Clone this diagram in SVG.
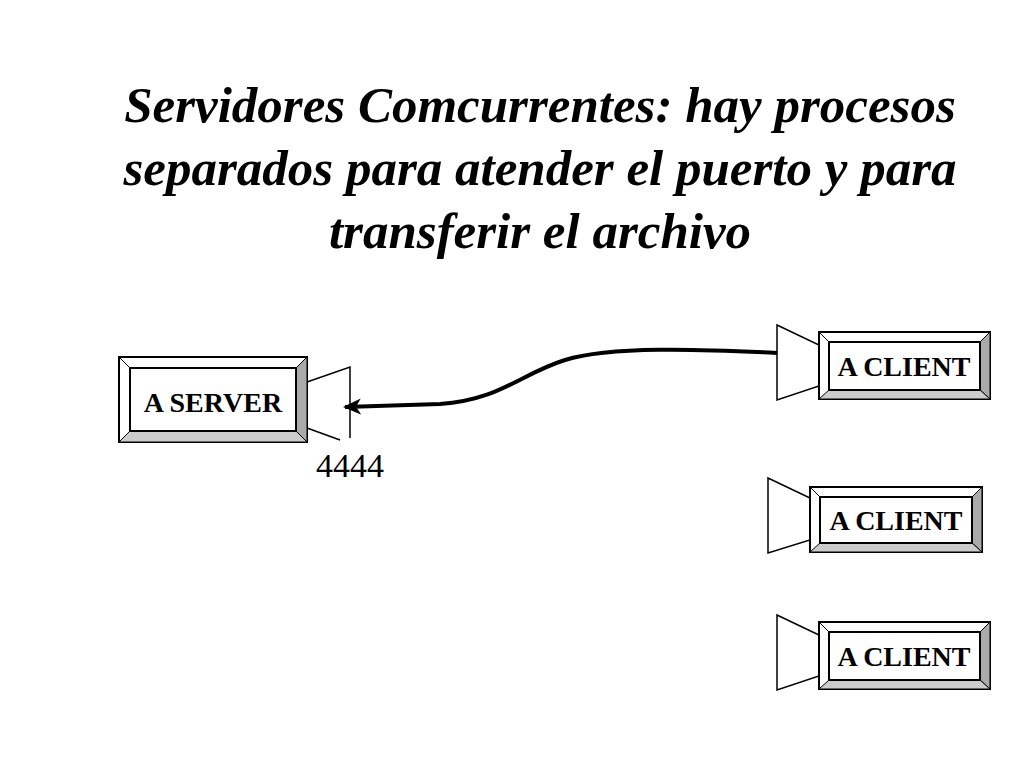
<svg xmlns="http://www.w3.org/2000/svg" width="1024" height="768" viewBox="0 0 1024 768">
<style>
.t{font-family:"Liberation Serif",serif;font-weight:bold;font-style:italic;font-size:51px;text-anchor:middle}
.l{font-family:"Liberation Serif",serif;font-weight:bold;font-size:28px;text-anchor:middle}
.o{fill:#fff;stroke:#000;stroke-width:2}
.p{fill:#fff;stroke:#000;stroke-width:1.5}
</style>
<defs>
<marker id="ah" markerWidth="18" markerHeight="16" refX="16" refY="8" orient="auto" markerUnits="userSpaceOnUse"><path d="M0,0 L18,8 L0,16 L5,8 z"/></marker>
</defs>
<rect width="1024" height="768" fill="#fff"/>
<text class="t" x="540" y="122">Servidores Comcurrentes: hay procesos</text>
<text class="t" x="540" y="185">separados para atender el puerto y para</text>
<text class="t" x="540" y="248">transferir el archivo</text>
<g id="server">
<path d="M307,382 L350,367 L350,438 M307,428 L340,440" fill="none" stroke="#000" stroke-width="1.5"/>
<rect class="o" x="119" y="357" width="188" height="85"/>
<polygon points="296,368 307,357 307,442 296,431" fill="#aaa" stroke="#000"/>
<polygon points="130,431 296,431 307,442 119,442" fill="#ccc" stroke="#000"/>
<path d="M119,357 L130,368 M307,357 L296,368" stroke="#000"/>
<rect class="o" x="130" y="368" width="166" height="63"/>
<text class="l" x="213" y="412">A SERVER</text>
<text x="350" y="477" font-family="Liberation Serif,serif" font-size="34" text-anchor="middle">4444</text>
</g>
<g id="client1">
<polygon class="p" points="777,325 819,345 819,386 777,400"/>
<rect class="o" x="819" y="332" width="171" height="67"/>
<polygon points="980,342 990,332 990,399 980,390" fill="#aaa" stroke="#000"/>
<polygon points="829,390 980,390 990,399 819,399" fill="#ccc" stroke="#000"/>
<path d="M819,332 L829,342 M990,332 L980,342" stroke="#000"/>
<rect class="o" x="829" y="342" width="151" height="48"/>
<text class="l" x="904" y="376">A CLIENT</text>
</g>
<g id="client2">
<polygon class="p" points="768,478 810,498 810,540 768,553"/>
<rect class="o" x="810" y="487" width="172" height="65"/>
<polygon points="972,497 982,487 982,552 972,543" fill="#aaa" stroke="#000"/>
<polygon points="820,543 972,543 982,552 810,552" fill="#ccc" stroke="#000"/>
<path d="M810,487 L820,497 M982,487 L972,497" stroke="#000"/>
<rect class="o" x="820" y="497" width="152" height="46"/>
<text class="l" x="896" y="530">A CLIENT</text>
</g>
<g id="client3">
<polygon class="p" points="777,615 819,635 819,676 777,690"/>
<rect class="o" x="819" y="622" width="171" height="67"/>
<polygon points="980,632 990,622 990,689 980,680" fill="#aaa" stroke="#000"/>
<polygon points="829,680 980,680 990,689 819,689" fill="#ccc" stroke="#000"/>
<path d="M819,622 L829,632 M990,622 L980,632" stroke="#000"/>
<rect class="o" x="829" y="632" width="151" height="48"/>
<text class="l" x="904" y="666">A CLIENT</text>
</g>
<g id="connectors">
<path d="M777,353 C700,349 610,346 565,360 C520,374 500,400 440,404 L345,407" fill="none" stroke="#000" stroke-width="4" marker-end="url(#ah)"/>
</g>
</svg>
